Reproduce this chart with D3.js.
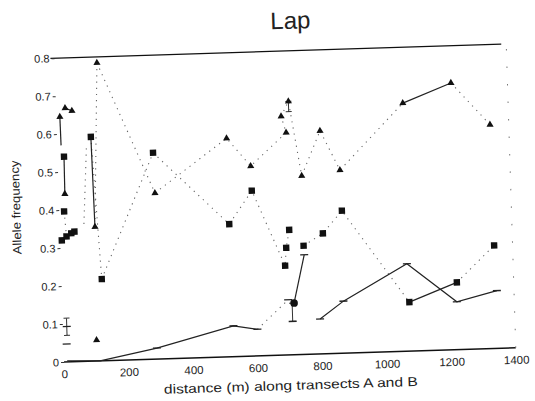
<!DOCTYPE html>
<html><head><meta charset="utf-8">
<script src="https://cdn.jsdelivr.net/npm/d3@7"></script>
<style>
html,body{margin:0;padding:0;background:#fff;}
text{font-family:"Liberation Sans",Arial,Helvetica,sans-serif;fill:#222;}
</style></head>
<body>
<svg id="chart" width="535" height="401"></svg>
<script>
// ---- data (distance in m, allele frequency) ----
const title = "Lap";
const xLabel = "distance (m) along transects A and B";
const yLabel = "Allele frequency";
const xTicks = [0, 200, 400, 600, 800, 1000, 1200, 1400];
const xTickLabels = ["0", "200", "400", "600", "800", "1000", "1200", "1400"];
const yTicks = [0, 0.1, 0.2, 0.3, 0.4, 0.5, 0.6, 0.7, 0.8];
const yTickLabels = ["0", "0.1", "0.2", "0.3", "0.4", "0.5", "0.6", "0.7", "0.8"];

const triangles = [[11,0.645],[28,0.668],[49,0.66],[19,0.442],[109,0.353],[131,0.784],
  [298,0.437],[525,0.575],[597,0.50],[696,0.628],[710,0.585],[720,0.667],[754,0.47],
  [815,0.587],[873,0.482],[1074,0.653],[1225,0.702],[1342,0.589],[103,0.055]];
const squares = [[20,0.54],[15,0.396],[5,0.32],[20,0.33],[35,0.338],[45,0.342],
  [105,0.59],[125,0.215],[296,0.543],[525,0.349],[598,0.435],[694,0.235],[699,0.282],
  [710,0.329],[753,0.286],[814,0.317],[875,0.375],[1075,0.129],[1224,0.177],[1343,0.271]];
const dashes = [[10,0.047],[12,0.093],[289,0.029],[528,0.081],[602,0.07],[700,0.145],
  [754,0.262],[797,0.092],[871,0.137],[1071,0.23],[1222,0.126],[1347,0.152],[712,0.088]];
const dots = [[718,0.136]];
const errorBars = [[12,0.07,0.115],[712,0.088,0.136],[720,0.64,0.667]];

const solidA = [[28,0.668],[49,0.66]];
const solidB = [[20,0.54],[19,0.442]];
const solidC = [[105,0.59],[109,0.353]];
const solidD = [[5,0.32],[20,0.33],[35,0.338],[45,0.342]];
const solidE = [[1074,0.653],[1225,0.702]];
const solidF = [[1075,0.129],[1224,0.177]];
const solidG = [[10,0.003],[112,0.0],[289,0.029],[528,0.081],[602,0.07]];
const solidH = [[718,0.136],[754,0.262]];
const solidI = [[797,0.092],[871,0.137],[1071,0.23],[1222,0.126],[1347,0.152]];
const solidJ = [[11,0.645],[12,0.57]];

const dottedA = [[131,0.784],[298,0.437],[525,0.575],[597,0.50],[710,0.585],[696,0.628],
  [720,0.667],[754,0.47],[815,0.587],[873,0.482],[1074,0.653]];
const dottedB = [[131,0.784],[109,0.353]];
const dottedC = [[1225,0.702],[1342,0.589]];
const dottedD = [[105,0.59],[125,0.215],[296,0.543],[525,0.349],[598,0.435],[694,0.235],
  [699,0.282],[710,0.329]];
const dottedE = [[753,0.286],[814,0.317],[875,0.375],[1075,0.129]];
const dottedF = [[1224,0.177],[1343,0.271]];
const dottedG = [[602,0.07],[700,0.145]];
const dottedH = [[15,0.396],[20,0.33]];
const dottedI = [[90,0.56],[75,0.36]];
const edgeDots = [[1400,0.0],[1400,0.8]];

const solidLines = [solidA, solidB, solidC, solidD, solidE, solidF, solidG, solidH, solidI, solidJ];
const dottedLines = [dottedA, dottedB, dottedC, dottedD, dottedE, dottedF, dottedG, dottedH, dottedI];

// ---- drawing ----
const svg = d3.select("#chart");
const W = 452, H = 304;
const x = d3.scaleLinear().domain([0, 1400]).range([0, W]);
const y = d3.scaleLinear().domain([0, 0.8]).range([0, -H]);

const g = svg.append("g").attr("transform", "translate(64,362) rotate(-1.8)");

// frame lines (bottom axis and top line)
g.append("line").attr("x1", x(0)).attr("x2", x(1400)).attr("y1", y(0)).attr("y2", y(0))
  .attr("stroke", "#111").attr("stroke-width", 1.6);
g.append("line").attr("x1", x(0) - 4).attr("x2", x(1400) - 5).attr("y1", y(0.8)).attr("y2", y(0.8))
  .attr("stroke", "#111").attr("stroke-width", 1.3);

// y ticks
const yAxis = d3.axisLeft(y).tickValues(yTicks).tickSize(3).tickPadding(2)
  .tickFormat((d, i) => yTickLabels[i]);
const ya = g.append("g").call(yAxis);
ya.select(".domain").remove();
ya.selectAll("line").attr("stroke", "#333");
ya.selectAll("text").attr("font-size", 11).attr("fill", "#333")
  .style("font-family", "'Liberation Sans', Arial, sans-serif");

// x tick labels
const xAxis = d3.axisBottom(x).tickValues(xTicks).tickSize(0).tickPadding(8)
  .tickFormat((d, i) => xTickLabels[i]);
const xa = g.append("g").call(xAxis);
xa.select(".domain").remove();
xa.selectAll("text").attr("font-size", 11.5).attr("fill", "#333")
  .style("font-family", "'Liberation Sans', Arial, sans-serif");

// lines
const line = d3.line().x(d => x(d[0])).y(d => y(d[1]));
g.selectAll(".dotted").data(dottedLines).join("path")
  .attr("d", line).attr("fill", "none").attr("stroke", "#666")
  .attr("stroke-width", 1.1).attr("stroke-dasharray", "1.2,5");
g.append("path").datum(edgeDots).attr("d", line).attr("fill", "none")
  .attr("stroke", "#777").attr("stroke-width", 1).attr("stroke-dasharray", "1.5,16");
g.selectAll(".solid").data(solidLines).join("path")
  .attr("d", line).attr("fill", "none").attr("stroke", "#222").attr("stroke-width", 1.2);

// error bars
g.selectAll(".err").data(errorBars).join("path")
  .attr("d", d => `M${x(d[0])},${y(d[1])}V${y(d[2])}M${x(d[0])-3},${y(d[1])}h6M${x(d[0])-3},${y(d[2])}h6`)
  .attr("fill", "none").attr("stroke", "#333").attr("stroke-width", 1);

// markers
const tri = d3.symbol().type(d3.symbolTriangle).size(22);
g.selectAll(".tri").data(triangles).join("path")
  .attr("d", tri).attr("transform", d => `translate(${x(d[0])},${y(d[1])})`).attr("fill", "#111");
g.selectAll(".sq").data(squares).join("rect")
  .attr("x", d => x(d[0]) - 3.2).attr("y", d => y(d[1]) - 3.2)
  .attr("width", 6.4).attr("height", 6.4).attr("fill", "#111");
g.selectAll(".dash").data(dashes).join("line")
  .attr("x1", d => x(d[0]) - 4).attr("x2", d => x(d[0]) + 4)
  .attr("y1", d => y(d[1])).attr("y2", d => y(d[1]))
  .attr("stroke", "#222").attr("stroke-width", 1.3);
g.selectAll(".dot").data(dots).join("circle")
  .attr("cx", d => x(d[0])).attr("cy", d => y(d[1])).attr("r", 3.8).attr("fill", "#111");

// texts
g.append("text").attr("x", 237).attr("y", -326).attr("text-anchor", "middle")
  .attr("font-size", 24).text(title);
g.append("text").attr("transform", "translate(-39,-156) rotate(-90)")
  .attr("text-anchor", "middle").attr("font-size", 12)
  .attr("textLength", 94).attr("lengthAdjust", "spacingAndGlyphs").text(yLabel);
g.append("text").attr("x", 226).attr("y", 35).attr("text-anchor", "middle")
  .attr("font-size", 13).attr("textLength", 254).attr("lengthAdjust", "spacingAndGlyphs")
  .text(xLabel);
</script>
</body></html>
